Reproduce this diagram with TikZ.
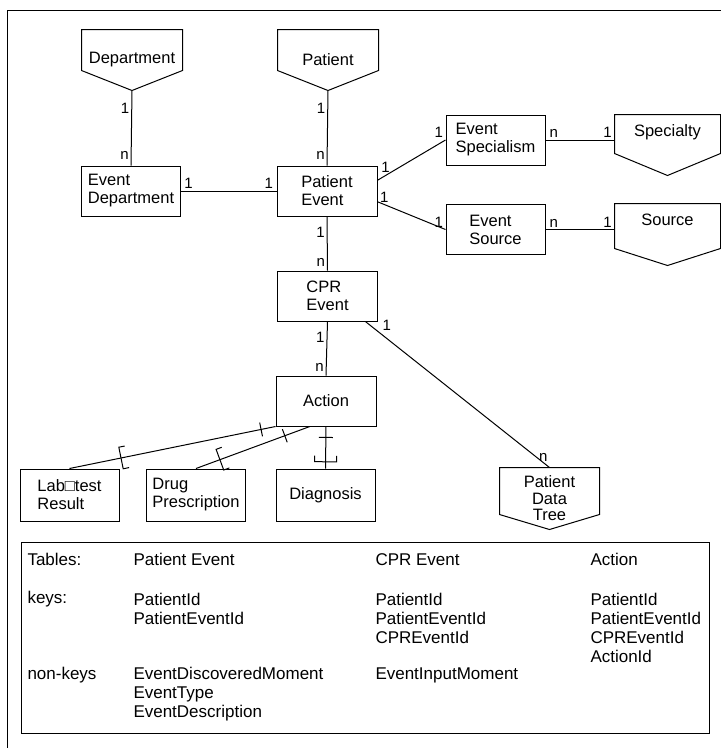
\documentclass[tikz,border=0pt]{standalone}
\usepackage{fontspec}
\setmainfont{Liberation Sans}
\usetikzlibrary{calc, decorations.markings}

\begin{document}
\begin{tikzpicture}[x = 1pt, y = -1pt, line width = 1pt,
		every node/.style = {font = \fontsize{16.5}{18}\selectfont},
		ent/.style = {draw, minimum width = 99pt, minimum height = 50pt, align = left, inner sep = 2pt},
		ref/.style = {minimum width = 100pt, minimum height = 60pt, align = center, inner sep = 0pt},
		card/.style = {inner sep = 2pt, font = \fontsize{15}{15}\selectfont},
		cell/.style = {anchor = north west, inner sep = 0pt, align = left, font = \fontsize{17}{19}\selectfont},
		isa/.style 2 args = {postaction = {decorate}, decoration = {markings,
			mark = at position #1 with {\draw (0, -7pt) -- (0, 7pt);},
			mark = at position #2 with {\draw (-6pt, -11pt) -- (0, -11pt) -- (0, 11pt) -- (-6pt, 11pt);}}}]
		\useasboundingbox (0, 0) rectangle (721, 748);
		\draw (721, 10) -- (7, 10) -- (7, 748);
		% Entities
		\node[ref] (dept) at (132, 60) {Department};
		\node[ref] (pat) at (328, 60) {Patient};
		\node[ref, minimum width = 105pt, text depth = 29pt] (spec) at (667.5, 145) {Specialty};
		\node[ref, minimum width = 105pt, minimum height = 61pt, text depth = 29pt] (src) at (667.5, 234.5) {Source};
		\node[ref, minimum width = 99pt, minimum height = 61pt, font = \fontsize{16.5}{16.5}\selectfont] (pdt) at (549.5, 498.5) {Patient\\Data\\Tree};
		\foreach \nm/\tip in {dept/20, pat/20, spec/22, src/17, pdt/15}
			\draw (\nm.north west) -- (\nm.north east) -- ([yshift = \tip]\nm.south east) -- (\nm.south) -- ([yshift = \tip]\nm.south west) -- cycle;
		\node[ent] (evdept) at (131, 191) {Event\\Department};
		\node[ent, minimum width = 100pt] (patev) at (327, 191) {Patient\\Event};
		\node[ent] (evspec) at (495.5, 140) {Event\\Specialism};
		\node[ent] (evsrc) at (495.5, 229.5) {Event\\Source};
		\node[ent, minimum width = 100pt] (cpr) at (327.5, 296) {CPR\\Event};
		\node[ent, minimum width = 100pt] (action) at (326, 401) {Action};
		\node[ent, minimum height = 52pt] (lab) at (69.5, 495) {Lab□test\\Result};
		\node[ent, minimum height = 52pt] (drug) at (196, 495) {Drug\\Prescription};
		\node[ent, minimum height = 52pt] (diag) at (325.5, 495) {Diagnosis};
		% Relations
		\draw (dept.south) -- node[card, pos = 0.24, left] {1} node[card, pos = 0.86, left] {n} (evdept.north);
		\draw (pat.south) -- node[card, pos = 0.24, left] {1} node[card, pos = 0.86, left] {n} (patev.north);
		\draw (evdept.east) -- node[card, pos = 0.08, above] {1} node[card, pos = 0.92, above] {1} (patev.west);
		\draw (patev.12) -- node[card, pos = 0.12, above] {1} node[card, pos = 1, above left] {1} (evspec.west);
		\draw (patev.-12) -- node[card, pos = 0.1, above] {1} node[card, pos = 1, above left] {1} (evsrc.west);
		\draw (evspec.east) -- node[card, pos = 0.12, above] {n} node[card, pos = 0.9, above] {1} (evspec.east -| spec.west);
		\draw (evsrc.east) -- node[card, pos = 0.12, above] {n} node[card, pos = 0.9, above] {1} (evsrc.east -| src.west);
		\draw (patev.south) -- node[card, pos = 0.29, left] {1} node[card, pos = 0.85, left] {n} (cpr.north);
		\draw (cpr.south) -- node[card, pos = 0.29, left] {1} node[card, pos = 0.85, left] {n} (action.north);
		\draw ($(cpr.south)!0.75!(cpr.south east)$) -- node[card, pos = 0.08, above right] {1} node[card, pos = 0.93, right] {n} (pdt.north);
		% Subtypes
		\draw[isa = {0.07}{0.75}] (action.south west) -- (lab.north);
		\draw[isa = {0.22}{0.79}] ($(action.south west)!0.34!(action.south east)$) -- (drug.north);
		\draw[isa = {0.26}{0.84}] (action.south) -- (diag.north);
		% Table
		\node[draw, minimum width = 688pt, minimum height = 191pt, inner sep = 0pt] (tab) at (365, 637.5) {};
		\node[cell] (ttab) at (27, 553) {Tables:};
		\node[cell] (tpe) at (133, 553) {Patient Event};
		\node[cell] (tcpr) at (375, 553) {CPR Event};
		\node[cell] (tact) at (590, 553) {Action};
		\node[cell] (kkey) at (27, 591) {keys:};
		\node[cell] (kpe) at (133, 593) {PatientId\\PatientEventId};
		\node[cell] (kcpr) at (375, 593) {PatientId\\PatientEventId\\CPREventId};
		\node[cell] (kact) at (590, 593) {PatientId\\PatientEventId\\CPREventId\\ActionId};
		\node[cell] (nkey) at (27, 667) {non-keys};
		\node[cell] (npe) at (133, 667) {EventDiscoveredMoment\\EventType\\EventDescription};
		\node[cell] (ncpr) at (375, 667) {EventInputMoment};
	\end{tikzpicture}
\end{document}
